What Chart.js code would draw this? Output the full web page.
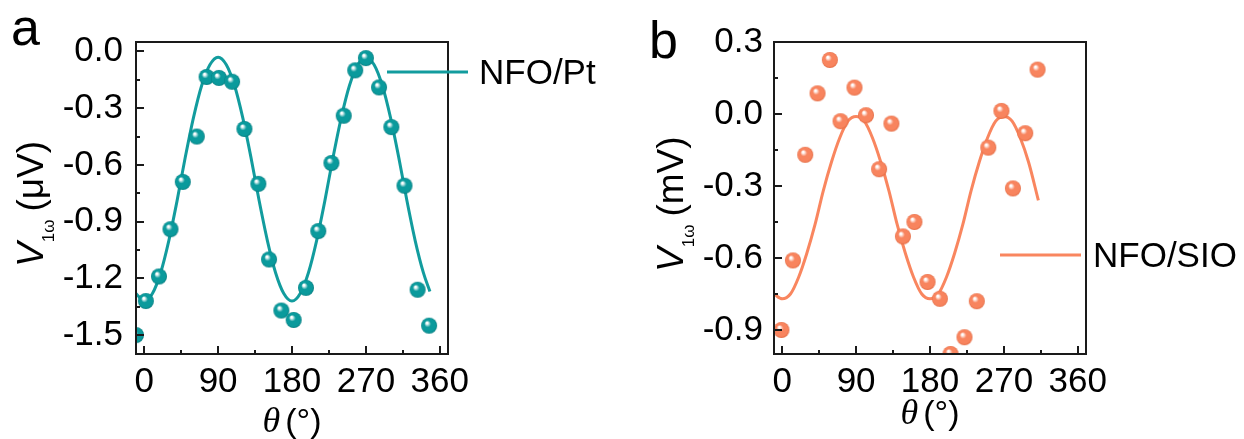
<!DOCTYPE html>
<html>
<head>
<meta charset="utf-8">
<script src="https://cdn.jsdelivr.net/npm/chart.js@4.4.1/dist/chart.umd.min.js"></script>
<style>
  html, body { margin: 0; padding: 0; background: #ffffff; }
  #wrap { position: relative; width: 1244px; height: 439px; overflow: hidden; }
  #wrap canvas { position: absolute; top: 0; }
</style>
</head>
<body>
<div id="wrap">
  <canvas id="panelA" width="622" height="439" style="left:0px"></canvas>
  <canvas id="panelB" width="622" height="439" style="left:622px"></canvas>
</div>
<script>
// ---- NFO/Pt: measured first-harmonic voltage (µV) vs. angle ----
const thetaPt = [-10, 2, 18, 32, 47, 64, 76, 91, 107, 122, 139, 152, 167, 182, 197, 212, 228, 243, 257, 270, 286, 301, 317, 333, 347];
const vPt     = [-1.50, -1.32, -1.19, -0.94, -0.69, -0.45, -0.135, -0.14, -0.16, -0.41, -0.70, -1.10, -1.37, -1.42, -1.25, -0.95, -0.59, -0.34, -0.10, -0.035, -0.19, -0.40, -0.71, -1.26, -1.45];
// fitted curve for NFO/Pt
const fitThetaPt = [-10, 0, 10, 20, 30, 40, 50, 60, 70, 80, 90, 100, 110, 120, 130, 140, 150, 160, 170, 180, 190, 200, 210, 220, 230, 240, 250, 260, 270, 280, 290, 300, 310, 320, 330, 340, 348];
const fitVPt     = [-1.28, -1.32, -1.28, -1.17, -1.00, -0.79, -0.56, -0.35, -0.18, -0.07, -0.03, -0.07, -0.18, -0.35, -0.56, -0.79, -1.00, -1.17, -1.28, -1.32, -1.28, -1.17, -1.00, -0.79, -0.56, -0.35, -0.18, -0.07, -0.03, -0.07, -0.18, -0.35, -0.56, -0.79, -1.00, -1.17, -1.27];

// ---- NFO/SIO: measured first-harmonic voltage (mV) vs. angle ----
const thetaSio = [-1, 13, 28, 43, 58, 71, 88, 102, 118, 133, 147, 161, 177, 192, 205, 222, 237, 251, 267, 281, 296, 311];
const vSio     = [-0.90, -0.61, -0.17, 0.086, 0.225, -0.03, 0.11, -0.005, -0.23, -0.04, -0.51, -0.45, -0.70, -0.77, -1.00, -0.93, -0.78, -0.14, 0.013, -0.31, -0.08, 0.185];
// fitted curve for NFO/SIO
const fitThetaSio = [-10, 0, 10, 20, 30, 40, 50, 60, 70, 80, 90, 100, 110, 120, 130, 140, 150, 160, 170, 180, 190, 200, 210, 220, 230, 240, 250, 260, 270, 280, 290, 300, 312];
const fitVSio     = [-0.75, -0.77, -0.75, -0.68, -0.58, -0.46, -0.32, -0.20, -0.10, -0.03, -0.01, -0.03, -0.10, -0.20, -0.32, -0.46, -0.58, -0.68, -0.75, -0.77, -0.75, -0.68, -0.58, -0.46, -0.32, -0.20, -0.10, -0.03, -0.01, -0.03, -0.10, -0.20, -0.36];

// ---- axis ticks ----
const thetaTicks = [0, 90, 180, 270, 360];
const thetaMinorTicks = [45, 135, 225, 315];
const vTicksPt = [0, -0.3, -0.6, -0.9, -1.2, -1.5];
const vMinorTicksPt = [-0.15, -0.45, -0.75, -1.05, -1.35];
const vTicksSio = [0.3, 0, -0.3, -0.6, -0.9];
const vMinorTicksSio = [0.15, -0.15, -0.45, -0.75];

const SANS = '"Liberation Sans", Arial, Helvetica, sans-serif';
const SERIF = '"Liberation Serif", "Times New Roman", serif';
const TEAL = '#129c9e';
const CORAL = '#f9865f';

// shaded sphere used as the point marker
function ballSprite(base, rim, r) {
  const s = Math.ceil(2 * r + 2);
  const c = document.createElement('canvas');
  c.width = c.height = s;
  const g = c.getContext('2d');
  const m = s / 2;
  const grad = g.createRadialGradient(m - r * 0.3, m - r * 0.38, 0, m, m, r);
  grad.addColorStop(0, '#ffffff');
  grad.addColorStop(0.12, '#ffffff');
  grad.addColorStop(0.42, base);
  grad.addColorStop(0.85, base);
  grad.addColorStop(1, rim);
  g.fillStyle = grad;
  g.beginPath();
  g.arc(m, m, r, 0, Math.PI * 2);
  g.fill();
  return c;
}

// frame, inward ticks, titles, panel letter and the line legend
const panelDecor = {
  id: 'panelDecor',
  afterDraw(chart, args, o) {
    const ctx = chart.ctx;
    const a = chart.chartArea;
    const xs = chart.scales.x, ys = chart.scales.y;
    ctx.save();
    ctx.strokeStyle = '#1a1a1a';
    ctx.lineWidth = 2;
    ctx.beginPath();
    const xt = (vals, len) => vals.forEach(v => {
      const p = Math.round(xs.getPixelForValue(v));
      ctx.moveTo(p, a.bottom); ctx.lineTo(p, a.bottom - len);
    });
    const yt = (vals, len) => vals.forEach(v => {
      const p = Math.round(ys.getPixelForValue(v));
      ctx.moveTo(a.left, p); ctx.lineTo(a.left + len, p);
    });
    xt(o.xMajor, 8); xt(o.xMinor, 4);
    yt(o.yMajor, 8); yt(o.yMinor, 4);
    ctx.stroke();
    ctx.strokeRect(a.left, a.top, a.right - a.left, a.bottom - a.top);

    ctx.fillStyle = '#000';
    ctx.textAlign = 'left';
    ctx.textBaseline = 'alphabetic';

    // panel letter
    ctx.font = '52px ' + SANS;
    ctx.fillText(o.letter, o.letterX, o.letterY);

    // x title: theta (deg)
    ctx.font = 'italic 36px ' + SERIF;
    const wTh = ctx.measureText('\u03b8').width;
    ctx.font = '34px ' + SANS;
    const wDeg = ctx.measureText('(\u00b0)').width;
    const gap = 5;
    const cx = (a.left + a.right) / 2;
    let x0 = cx - (wTh + gap + wDeg) / 2;
    ctx.font = 'italic 36px ' + SERIF;
    ctx.fillText('\u03b8', x0, o.xTitleY);
    ctx.font = '34px ' + SANS;
    ctx.fillText('(\u00b0)', x0 + wTh + gap, o.xTitleY);

    // y title: V_1w (unit), rotated
    ctx.save();
    ctx.translate(o.yTitleX, o.yTitleStart);
    ctx.rotate(-Math.PI / 2);
    ctx.font = 'italic 37px ' + SANS;
    ctx.fillText('V', 0, 0);
    let px = ctx.measureText('V').width;
    ctx.font = '17px ' + SANS;
    ctx.fillText('1\u03c9', px, 11);
    px += ctx.measureText('1\u03c9').width + 8;
    ctx.font = '37px ' + SANS;
    ctx.fillText(o.unit, px, 0);
    ctx.restore();

    // legend line + label
    ctx.strokeStyle = o.color;
    ctx.lineWidth = 3;
    ctx.beginPath();
    ctx.moveTo(o.legX0, o.legY);
    ctx.lineTo(o.legX1, o.legY);
    ctx.stroke();
    ctx.font = '35px ' + SANS;
    ctx.fillText(o.legText, o.legTextX, o.legTextY);
    ctx.restore();
  }
};

function makePanel(id, cfg) {
  const sprite = ballSprite(cfg.base, cfg.rim, 8);
  return new Chart(document.getElementById(id), {
    type: 'scatter',
    data: {
      datasets: [
        {
          data: cfg.theta.map((t, i) => ({ x: t, y: cfg.v[i] })),
          pointStyle: sprite,
          pointRadius: 8,
          showLine: false
        },
        {
          data: cfg.fitTheta.map((t, i) => ({ x: t, y: cfg.fitV[i] })),
          showLine: true,
          borderColor: cfg.color,
          borderWidth: 3,
          pointRadius: 0,
          cubicInterpolationMode: 'monotone',
          fill: false
        }
      ]
    },
    options: {
      responsive: false,
      animation: false,
      events: [],
      layout: { padding: { top: 42, right: cfg.padRight, left: 0, bottom: 0 } },
      scales: {
        x: {
          type: 'linear',
          min: -10, max: 370,
          afterBuildTicks: s => { s.ticks = thetaTicks.map(v => ({ value: v })); },
          afterFit: s => { s.height = 85; },
          grid: { display: false, drawTicks: false },
          border: { display: false },
          ticks: { color: '#000', padding: 7, font: { family: SANS, size: 35 } }
        },
        y: {
          type: 'linear',
          min: cfg.yMin, max: cfg.yMax,
          afterBuildTicks: s => { s.ticks = cfg.yTicks.map(v => ({ value: v })); },
          afterFit: s => { s.width = cfg.yWidth; },
          grid: { display: false, drawTicks: false },
          border: { display: false },
          ticks: {
            color: '#000', padding: cfg.yPad, font: { family: SANS, size: 35 },
            callback: v => (Math.abs(v) < 1e-9 ? 0 : v).toFixed(1)
          }
        }
      },
      plugins: {
        legend: { display: false },
        tooltip: { enabled: false },
        panelDecor: cfg.decor
      }
    },
    plugins: [panelDecor]
  });
}

makePanel('panelA', {
  theta: thetaPt, v: vPt, fitTheta: fitThetaPt, fitV: fitVPt,
  base: '#0a9a9c', rim: '#057c7f', color: TEAL,
  yMin: -1.6, yMax: 0.05, yTicks: vTicksPt, yWidth: 136, yPad: 13, padRight: 174,
  decor: {
    xMajor: thetaTicks, xMinor: thetaMinorTicks, yMajor: vTicksPt, yMinor: vMinorTicksPt,
    letter: 'a', letterX: 11, letterY: 45,
    xTitleY: 432, yTitleX: 43, yTitleStart: 267, unit: '(\u03bcV)',
    color: TEAL, legX0: 387, legX1: 468, legY: 72, legText: 'NFO/Pt', legTextX: 479, legTextY: 84
  }
});

makePanel('panelB', {
  theta: thetaSio, v: vSio, fitTheta: fitThetaSio, fitV: fitVSio,
  base: '#f8845e', rim: '#e2683f', color: CORAL,
  yMin: -1.0, yMax: 0.3, yTicks: vTicksSio, yWidth: 152, yPad: 11, padRight: 158,
  decor: {
    xMajor: thetaTicks, xMinor: thetaMinorTicks, yMajor: vTicksSio, yMinor: vMinorTicksSio,
    letter: 'b', letterX: 27, letterY: 58,
    xTitleY: 424, yTitleX: 61, yTitleStart: 272, unit: '(mV)',
    color: CORAL, legX0: 378, legX1: 459, legY: 255, legText: 'NFO/SIO', legTextX: 471, legTextY: 267
  }
});
</script>
</body>
</html>
